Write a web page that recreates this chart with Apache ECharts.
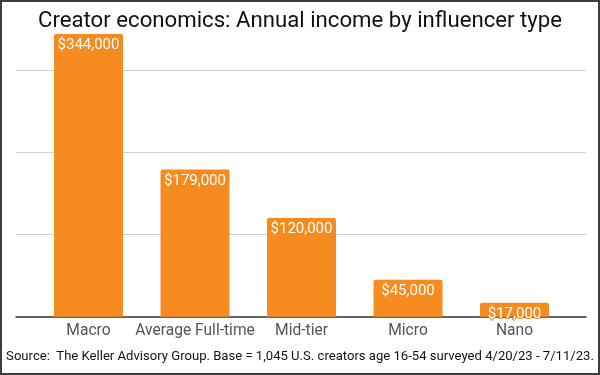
<!DOCTYPE html>
<html>
<head>
<meta charset="utf-8">
<script src="https://cdn.jsdelivr.net/npm/echarts@6/dist/echarts.min.js"></script>
<style>
html,body{margin:0;padding:0;background:#fff;}
#frame{width:600px;height:375px;box-sizing:border-box;border:2px solid #3d3d3d;position:relative;overflow:hidden;}
#chart{position:absolute;left:-2px;top:-2px;width:600px;height:375px;}
</style>
</head>
<body>
<div id="frame"><div id="chart"></div></div>
<script>
const categories = ['Macro', 'Average Full-time', 'Mid-tier', 'Micro', 'Nano'];
const incomes = [344000, 179000, 120000, 45000, 17000];
const titleText = 'Creator economics: Annual income by influencer type';
const sourceText = 'Source:  The Keller Advisory Group. Base = 1,045 U.S. creators age 16-54 surveyed 4/20/23 - 7/11/23.';

const barColor = '#f68b1f';
const yMax = 344000;
const chart = echarts.init(document.getElementById('chart'));
chart.setOption({
  animation: false,
  backgroundColor: 'transparent',
  title: [
    {text: titleText, left: 'center', top: 5,
     textStyle: {fontFamily: 'Roboto', fontSize: 22.2, fontWeight: 'normal', color: '#111'}},
    {text: sourceText, left: 'center', bottom: 7,
     textStyle: {fontFamily: 'Roboto', fontSize: 13.1, fontWeight: 'normal', color: '#111'}}
  ],
  grid: [
    {left: 16, right: 14, top: 34, bottom: 58.3},
    {left: 35.25, right: 32.25, top: 34, bottom: 58.3}
  ],
  xAxis: [
    {gridIndex: 0, type: 'value', min: 0, max: 1,
     axisLine: {show: true, onZero: false, lineStyle: {color: '#333', width: 1.5}},
     axisTick: {show: false}, axisLabel: {show: false}, splitLine: {show: false}},
    {gridIndex: 1, type: 'category', data: categories,
     axisLine: {show: false}, axisTick: {show: false},
     axisLabel: {interval: 0, hideOverlap: false, fontFamily: 'Roboto', fontSize: 15.6, color: '#555', margin: 6.5}}
  ],
  yAxis: [
    {gridIndex: 0, type: 'value', min: 0, max: yMax, interval: 100000,
     axisLine: {show: false}, axisTick: {show: false}, axisLabel: {show: false},
     splitLine: {show: true, showMaxLine: false, showMinLine: false, lineStyle: {color: '#d0d0d0', width: 1}}},
    {gridIndex: 1, type: 'value', min: 0, max: yMax, show: false, splitLine: {show: false}}
  ],
  series: [{
    type: 'bar',
    xAxisIndex: 1, yAxisIndex: 1,
    data: incomes,
    barWidth: 69,
    itemStyle: {color: barColor, borderRadius: [2, 2, 0, 0]},
    label: {
      show: true, position: 'insideTop', distance: 4,
      fontFamily: 'Roboto', fontSize: 15, color: '#fff',
      textBorderColor: barColor, textBorderWidth: 2,
      formatter: p => '$' + p.value.toLocaleString('en-US')
    }
  }]
});
</script>
</body>
</html>
